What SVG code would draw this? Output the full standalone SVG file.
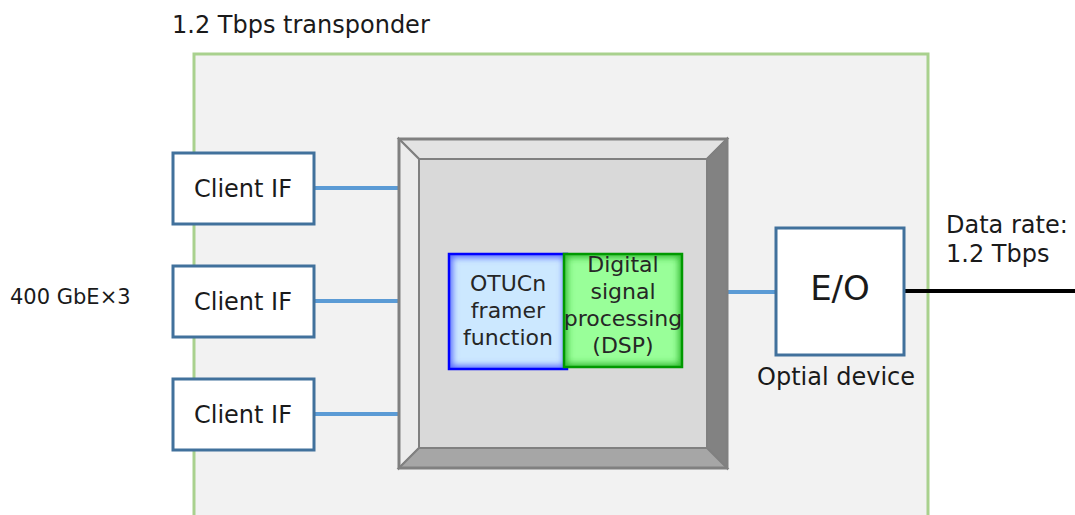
<svg xmlns="http://www.w3.org/2000/svg" width="1075" height="515" viewBox="0 0 1075 515">
  <defs>
    <style>
      text { font-family: "DejaVu Sans", "Liberation Sans", sans-serif; fill: #1a1a1a; }
      .box { fill: #ffffff; stroke: #41719c; stroke-width: 3; }
      .link { stroke: #5b9bd5; stroke-width: 4; fill: none; }
      .lbl { font-size: 24px; }
      .mid { text-anchor: middle; }
      .inner { font-size: 22px; text-anchor: middle; fill: #262626; }
      .bevel { stroke: #808080; stroke-width: 2; stroke-linejoin: miter; }
    </style>
    <clipPath id="clipOtu"><rect x="448" y="253" width="120" height="117"/></clipPath>
    <clipPath id="clipDsp"><rect x="563" y="253" width="120" height="115"/></clipPath>
    <filter id="soft" x="-10%" y="-10%" width="120%" height="120%">
      <feGaussianBlur stdDeviation="3"/>
    </filter>
  </defs>

  <rect width="1075" height="515" fill="#ffffff"/>

  <!-- transponder enclosure -->
  <g id="transponder">
    <rect x="194" y="54" width="734" height="470" fill="#f2f2f2" stroke="#a9d18e" stroke-width="3"/>
    <text class="lbl" x="172" y="33">1.2 Tbps transponder</text>
  </g>

  <text id="client-label" x="10" y="304" font-size="21px">400 GbE×3</text>

  <!-- connectors -->
  <g id="connectors">
    <line class="link" x1="315" y1="188" x2="399" y2="188"/>
    <line class="link" x1="315" y1="301" x2="399" y2="301"/>
    <line class="link" x1="315" y1="414" x2="399" y2="414"/>
    <line class="link" x1="728" y1="292" x2="775" y2="292"/>
    <line x1="905" y1="291" x2="1075" y2="291" stroke="#000000" stroke-width="4"/>
  </g>

  <g id="client-if-1">
    <rect class="box" x="173" y="153" width="141" height="71"/>
    <text class="lbl mid" x="243" y="197">Client IF</text>
  </g>
  <g id="client-if-2">
    <rect class="box" x="173" y="266" width="141" height="71"/>
    <text class="lbl mid" x="243" y="310">Client IF</text>
  </g>
  <g id="client-if-3">
    <rect class="box" x="173" y="379" width="141" height="71"/>
    <text class="lbl mid" x="243" y="423">Client IF</text>
  </g>

  <!-- bevelled processing block -->
  <g id="processor">
    <polygon class="bevel" points="399,139 727,139 707,159 419,159" fill="#e3e3e3"/>
    <polygon class="bevel" points="399,139 419,159 419,448 399,468" fill="#ececec"/>
    <polygon class="bevel" points="727,139 727,468 707,448 707,159" fill="#828282"/>
    <polygon class="bevel" points="399,468 419,448 707,448 727,468" fill="#a6a6a6"/>
    <rect x="419" y="159" width="288" height="289" fill="#d9d9d9" stroke="#808080" stroke-width="2"/>
    <rect x="399" y="139" width="328" height="329" fill="none" stroke="#808080" stroke-width="3"/>
  </g>

  <g id="otucn">
    <rect x="448" y="253" width="120" height="117" fill="#cce8ff"/>
    <rect x="448" y="253" width="120" height="117" fill="none" stroke="#5566ff" stroke-width="9" filter="url(#soft)" clip-path="url(#clipOtu)"/>
    <rect x="449" y="254" width="118" height="115" fill="none" stroke="#0000ff" stroke-width="2.5"/>
    <text class="inner" x="508" y="291">OTUCn</text>
    <text class="inner" x="508" y="318">framer</text>
    <text class="inner" x="508" y="345">function</text>
  </g>

  <g id="dsp">
    <rect x="563" y="253" width="120" height="115" fill="#99ff99"/>
    <rect x="563" y="253" width="120" height="115" fill="none" stroke="#33bb33" stroke-width="9" filter="url(#soft)" clip-path="url(#clipDsp)"/>
    <rect x="564" y="254" width="118" height="113" fill="none" stroke="#009900" stroke-width="2.5"/>
    <text class="inner" x="623" y="272">Digital</text>
    <text class="inner" x="623" y="299">signal</text>
    <text class="inner" x="623" y="326">processing</text>
    <text class="inner" x="623" y="353">(DSP)</text>
  </g>

  <g id="eo">
    <rect class="box" x="776" y="228" width="128" height="127"/>
    <text class="mid" x="840" y="300" font-size="34px">E/O</text>
    <text class="lbl" x="757" y="385">Optial device</text>
  </g>

  <g id="rate-label">
    <text class="lbl" x="946" y="233">Data rate:</text>
    <text class="lbl" x="946" y="262">1.2 Tbps</text>
  </g>
</svg>
